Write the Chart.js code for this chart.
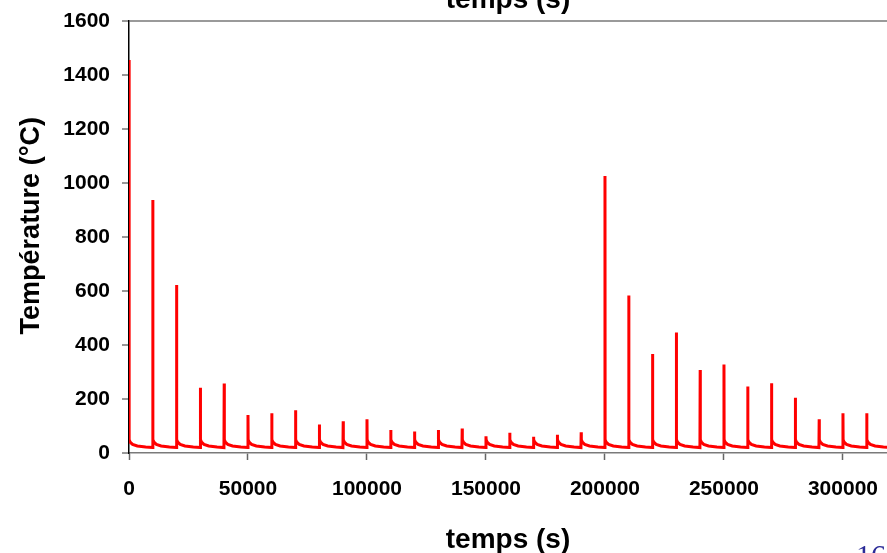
<!DOCTYPE html>
<html lang="fr">
<head>
    <meta charset="UTF-8">
    <title>Température</title>
    <style>
        html, body {
            margin: 0;
            padding: 0;
            background: #fff;
            overflow: hidden;
        }
        .wrap {
            position: relative;
            width: 887px;
            height: 553px;
            overflow: hidden;
        }
        #page {
            position: absolute;
            left: 856px;
            top: 540px;
            font-family: "Liberation Serif", serif;
            font-size: 30px;
            line-height: 30px;
            color: #2b2b98;
        }
    </style>
</head>
<body>
    <div class="wrap">
        <canvas id="chart" width="887" height="553"></canvas>
        <div id="page">16</div>
    </div>
    <script src="https://cdn.jsdelivr.net/npm/chart.js"></script>
    <script>
        // start of each heating cycle (s) and the peak reached
        const cycleStarts = [0, 10000, 20000, 30000, 40000, 50000, 60000, 70000, 80000, 90000,
            100000, 110000, 120000, 130000, 140000, 150000, 160000, 170000, 180000, 190000,
            200000, 210000, 220000, 230000, 240000, 250000, 260000, 270000, 280000, 290000,
            300000, 310000];
        const peakTemps = [1456, 937, 622, 242, 257, 141, 147, 158, 106, 118,
            125, 85, 80, 85, 91, 62, 75, 60, 68, 77,
            1026, 583, 367, 446, 307, 328, 246, 258, 205, 125,
            147, 147];
        // cooling after each peak: seconds after the peak, temperature
        const decayOffsets = [60, 500, 1500, 3500, 7000, 9900];
        const decayTemps = [50, 40, 32, 26, 22, 20];

        const xTicks = [0, 50000, 100000, 150000, 200000, 250000, 300000];
        const yTicks = [0, 200, 400, 600, 800, 1000, 1200, 1400, 1600];

        const points = [];
        cycleStarts.forEach((t, i) => {
            points.push({ x: t, y: peakTemps[i] });
            decayOffsets.forEach((d, j) => points.push({ x: t + d, y: decayTemps[j] }));
        });

        const fontFamily = '"Liberation Sans", Arial, sans-serif';

        const topTitle = {
            id: 'topTitle',
            afterDraw(chart) {
                const ctx = chart.ctx;
                const area = chart.chartArea;
                ctx.save();
                ctx.font = 'bold 28px ' + fontFamily;
                ctx.fillStyle = '#000';
                ctx.textAlign = 'center';
                ctx.textBaseline = 'alphabetic';
                ctx.fillText('temps (s)', (area.left + area.right) / 2, 8);
                ctx.restore();
            }
        };

        new Chart(document.getElementById('chart'), {
            type: 'line',
            data: {
                datasets: [{
                    data: points,
                    borderColor: '#ff0000',
                    borderWidth: 3,
                    pointRadius: 0,
                    tension: 0,
                    fill: false
                }]
            },
            options: {
                responsive: false,
                animation: false,
                layout: { padding: { top: 21, right: 0, bottom: 0, left: 0 } },
                plugins: {
                    legend: { display: false },
                    tooltip: { enabled: false }
                },
                scales: {
                    x: {
                        type: 'linear',
                        min: 0,
                        max: 318500,
                        afterBuildTicks: s => { s.ticks = xTicks.map(v => ({ value: v })); },
                        afterFit: s => {
                            s.height = 100;
                            s.paddingLeft = 0;
                            s.paddingRight = 0;
                        },
                        border: { color: '#7a7a7a', width: 1.5 },
                        grid: { drawOnChartArea: false, tickLength: 7, tickColor: '#666', tickWidth: 1.5 },
                        ticks: {
                            color: '#000',
                            padding: 17,
                            maxRotation: 0,
                            autoSkip: false,
                            font: { family: fontFamily, size: 21, weight: 'bold' },
                            callback: v => String(v)
                        },
                        title: {
                            display: true,
                            text: 'temps (s)',
                            color: '#000',
                            font: { family: fontFamily, size: 28, weight: 'bold' },
                            padding: { top: 0, bottom: -4 }
                        }
                    },
                    y: {
                        min: 0,
                        max: 1600,
                        afterBuildTicks: s => { s.ticks = yTicks.map(v => ({ value: v })); },
                        afterFit: s => {
                            s.width = 129;
                            s.paddingTop = 0;
                            s.paddingBottom = 0;
                        },
                        border: { color: '#000', width: 1.5 },
                        grid: {
                            color: c => (c.tick && c.tick.value === 1600) ? '#9a9a9a' : 'rgba(0,0,0,0)',
                            lineWidth: 2,
                            tickLength: 7,
                            tickColor: '#333',
                            tickWidth: 1
                        },
                        ticks: {
                            color: '#000',
                            padding: 12,
                            font: { family: fontFamily, size: 21, weight: 'bold' },
                            callback: v => String(v)
                        },
                        title: {
                            display: true,
                            text: '   Température (°C)',
                            color: '#000',
                            font: { family: fontFamily, size: 27, weight: 'bold' },
                            padding: { top: 15, bottom: 0 }
                        }
                    }
                }
            },
            plugins: [topTitle]
        });
    </script>
</body>
</html>
